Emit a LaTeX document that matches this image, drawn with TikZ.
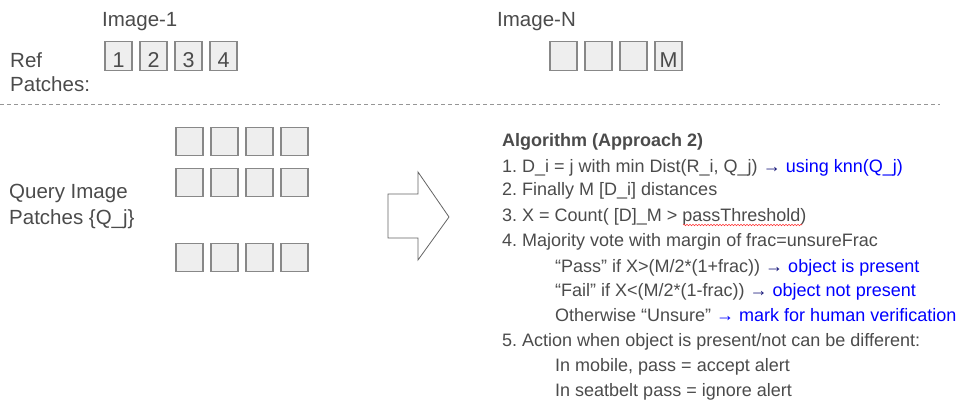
\documentclass[tikz,border=0pt]{standalone}
\usepackage{fontspec}
\setmainfont{Liberation Sans}
\usetikzlibrary{decorations.pathmorphing}
\definecolor{txtgray}{RGB}{75,75,75}
\definecolor{patchgray}{RGB}{136,136,136}
\definecolor{patchfill}{RGB}{238,238,238}
\definecolor{dashgray}{RGB}{150,150,150}
\definecolor{arrowgray}{RGB}{100,100,100}
\definecolor{algblue}{RGB}{0,0,255}
\definecolor{algnavy}{RGB}{20,20,120}
\frenchspacing

\begin{document}
\begin{tikzpicture}[x=1pt, y=-1pt,
    lbl/.style={anchor=base west, inner sep=0pt, text=txtgray, font=\fontsize{20.5}{25}\selectfont},
    alg/.style={anchor=base west, inner sep=0pt, text=txtgray, font=\fontsize{18}{22}\selectfont},
    patch/.style={draw=patchgray, fill=patchfill, line width=1.2pt, minimum width=27pt,
        minimum height=28.5pt, inner sep=0pt, text height=23pt, text depth=0pt,
        text=txtgray, font=\fontsize{21.5}{25}\selectfont}]
    \useasboundingbox (0,0) rectangle (975,417);

    % Reference images
    \node[lbl] (img1) at (102,27) {Image-1};
    \node[lbl] (imgN) at (497,27) {Image-N};
    \node[lbl] (ref) at (10,68) {Ref};
    \node[lbl] (refp) at (10,92) {Patches:};

    % Ref patches
    \foreach \i/\t in {0/1,1/2,2/3,3/4}
        \node[patch] (r\i) at (118.5+35*\i,56) {\t};
    \foreach \i/\t in {0/,1/,2/,3/M}
        \node[patch] (n\i) at (563.5+35*\i,56) {\t};

    % Separator
    \draw[dashgray, line width=1pt, dash pattern=on 4pt off 3pt] (0,105) -- (940,105);

    % Query patches
    \node[lbl] (qry) at (9,199) {Query Image};
    \node[lbl] (qryp) at (9,224) {Patches \{Q\_j\}};
    \foreach \r/\y in {0/141.5,1/182.5,2/257.5}
        \foreach \i in {0,...,3}
            \node[patch] (q\r\i) at (189.5+35*\i,\y) {};

    % Big arrow
    \draw[arrowgray, line width=0.8pt, fill=white] (388,194) -- (418,194) -- (418,172)
        -- (449,217) -- (418,260) -- (418,238) -- (388,238) -- cycle;

    % Algorithm
    \node[alg] (alg0) at (502,147) {\textbf{Algorithm (Approach 2)}};
    \node[alg] (alg1) at (502,172) {1. D\_i = j with min Dist(R\_i, Q\_j) {\color{algnavy}→} {\color{algblue}using knn(Q\_j)}};
    \node[alg] (alg2) at (502,196) {2. Finally M [D\_i] distances};
    \node[alg] (alg3) at (502,221) {3. X = Count( [D]\_M > passThreshold)};
    \node[alg] (alg4) at (502,246) {4. Majority vote with margin of frac=unsureFrac};
    \node[alg] (alg5) at (555,272) {“Pass” if X>(M/2*(1+frac)) {\color{algnavy}→} {\color{algblue}object is present}};
    \node[alg] (alg6) at (555,296) {“Fail” if X<(M/2*(1-frac)) {\color{algnavy}→} {\color{algblue}object not present}};
    \node[alg] (alg7) at (555,321) {Otherwise “Unsure” {\color{algblue}→ mark for human verification}};
    \node[alg] (alg8) at (502,346) {5. Action when object is present/not can be different:};
    \node[alg] (alg9) at (555,371) {In mobile, pass = accept alert};
    \node[alg] (alg10) at (555,396) {In seatbelt pass = ignore alert};

    % spell-check mark
    \draw[red!80, line width=0.5pt, decorate, decoration={snake, amplitude=0.8pt, segment length=3pt}]
        (683,225) -- (802,225);
\end{tikzpicture}
\end{document}
